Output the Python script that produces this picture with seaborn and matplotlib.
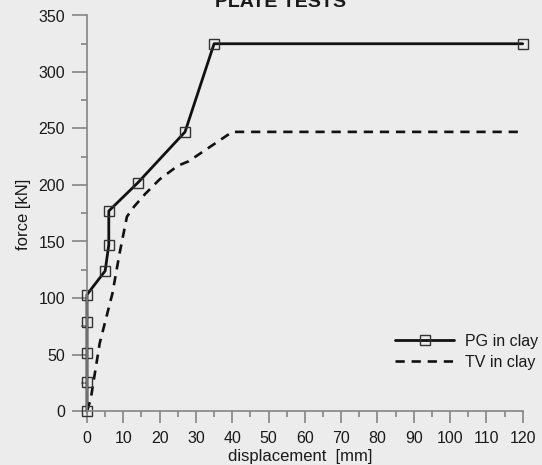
import matplotlib
matplotlib.use("Agg")
import matplotlib.pyplot as plt
import seaborn as sns
import pandas as pd
from matplotlib.lines import Line2D

# ---- data ----
title = "PLATE TESTS"
pg_label = "PG in clay"
tv_label = "TV in clay"
pg_x = [0, 0, 0, 0, 0, 5, 6, 6, 14, 27, 35, 120]
pg_y = [0, 26, 51, 79, 103, 124, 147, 177, 202, 247, 325, 325]
tv_x = [0, 1, 3.5, 7, 9, 11, 13, 16, 20, 25, 28, 40, 120]
tv_y = [0, 10, 60, 104, 140, 172, 181, 192, 205, 217, 221, 247, 247]
x_ticks = list(range(0, 121, 10))
x_minor = list(range(5, 120, 10))
y_ticks = list(range(0, 351, 50))
y_minor = list(range(25, 350, 50))

sns.set_theme(style="ticks")
plt.rcParams['font.family'] = ['Liberation Sans', 'DejaVu Sans']

BG = '#ececec'
SPINE = '#848484'
TXT = '#1a1a1a'

fig = plt.figure(figsize=(5.42, 4.65), dpi=100, facecolor=BG)
W, H = 542, 465
x0, x1 = 87, 522.7
y0, y1 = 411, 15.5
ax = fig.add_axes([x0 / W, (H - y0) / H, (x1 - x0) / W, (y0 - y1) / H])
ax.set_facecolor(BG)

df_pg = pd.DataFrame({'x': pg_x, 'y': pg_y})
df_tv = pd.DataFrame({'x': tv_x, 'y': tv_y})

sns.lineplot(data=df_tv, x='x', y='y', sort=False, estimator=None, ax=ax,
             color='#111111', lw=1.9, linestyle=(0, (3.5, 2.6)), clip_on=False)
sns.lineplot(data=df_pg, x='x', y='y', sort=False, estimator=None, ax=ax,
             color='#111111', lw=2.0, marker='s', markersize=6.5,
             markerfacecolor='none', markeredgecolor='#333333',
             markeredgewidth=1.0, clip_on=False)

ax.set_xlim(0, 120)
ax.set_ylim(0, 350)
ax.set_xticks(x_ticks)
ax.set_xticks(x_minor, minor=True)
ax.set_yticks(y_ticks)
ax.set_yticks(y_minor, minor=True)
ax.set_xticklabels([str(v) for v in x_ticks])
ax.set_yticklabels([str(v) for v in y_ticks])

for s in ['top', 'right']:
    ax.spines[s].set_visible(False)
for s in ['left', 'bottom']:
    ax.spines[s].set_color(SPINE)
    ax.spines[s].set_linewidth(1.2)

ax.tick_params(axis='x', which='major', length=8.6, width=1.2, color=SPINE,
               labelsize=11.5, labelcolor=TXT, pad=5.5, direction='out')
ax.tick_params(axis='x', which='minor', length=4.3, width=1.2, color=SPINE, direction='out')
ax.tick_params(axis='y', which='major', length=10.8, width=1.2, color=SPINE,
               labelsize=11.5, labelcolor=TXT, pad=5, direction='out')
ax.tick_params(axis='y', which='minor', length=4.3, width=1.2, color=SPINE, direction='out')

ax.set_xlabel("displacement  [mm]", fontsize=12, color=TXT, va='center')
ax.xaxis.set_label_coords((300 - x0) / (x1 - x0), -(456 - y0) / (y0 - y1))
ax.set_ylabel("force [kN]", fontsize=12, color=TXT, va='center')
ax.yaxis.set_label_coords(-(x0 - 23) / (x1 - x0), (y0 - 214) / (y0 - y1))

fig.text(280.5 / W, 1 - 7 / H, title, ha='center', va='baseline',
         fontsize=14, fontweight='bold', color=TXT)

if ax.get_legend() is not None:
    ax.get_legend().remove()
handles = [
    Line2D([], [], color='#111111', lw=2.0, marker='s', markersize=6.5,
           markerfacecolor='none', markeredgecolor='#333333', markeredgewidth=1.0),
    Line2D([], [], color='#111111', lw=1.9, linestyle=(0, (3.5, 2.6))),
]
fig.legend(handles, [pg_label, tv_label], loc='upper left',
           bbox_to_anchor=(395 / W, 1 - 334 / H), bbox_transform=fig.transFigure,
           frameon=False, fontsize=11.5, borderpad=0, borderaxespad=0,
           handlelength=3.7, handletextpad=0.7, labelspacing=0.35,
           labelcolor=TXT)

fig.savefig("out.png", dpi=100, facecolor=BG)
